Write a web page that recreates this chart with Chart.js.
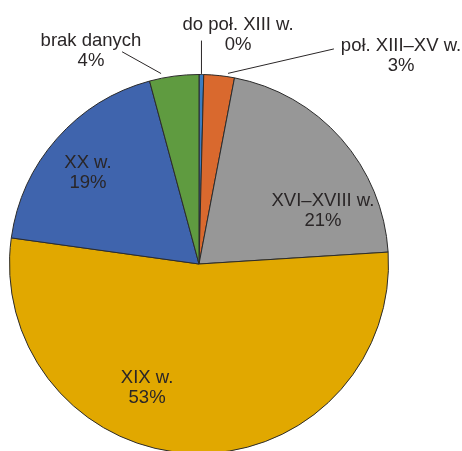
<!DOCTYPE html>
<html>
<head>
<meta charset="utf-8">
<script src="https://cdn.jsdelivr.net/npm/chart.js@4"></script>
<style>
  html, body { margin: 0; padding: 0; background: #fff; overflow: hidden; }
  #wrap { position: relative; width: 462px; height: 460px; }
</style>
</head>
<body>
<div id="wrap"><canvas id="pie"></canvas></div>
<script>
// dane (udział w %)
const categories = ["do poł. XIII w.", "poł. XIII–XV w.", "XVI–XVIII w.", "XIX w.", "XX w.", "brak danych"];
const shares = [0.4, 2.6, 21.0, 53.2, 18.6, 4.2];
const colors = ["#3b7cc2", "#d9692e", "#979797", "#e1a800", "#3f64ad", "#5f9b40"];

// pozycje etykiet względem środka koła, w jednostkach promienia
// text: [x, y]; line: [x1, y1, x2, y2] (null = bez linii odniesienia)
const labelPos = [
  { text: [0.206, -1.210], line: [0.013, -1.179, 0.013, -1.003] },
  { text: [1.066, -1.100], line: [0.712, -1.135, 0.153, -1.006] },
  { text: [0.654, -0.282], line: null },
  { text: [-0.274, 0.652], line: null },
  { text: [-0.586, -0.482], line: null },
  { text: [-0.570, -1.124], line: [-0.406, -1.120, -0.200, -1.005] }
];

const labelPlugin = {
  id: 'pieLabels',
  afterDatasetsDraw(chart) {
    const ctx = chart.ctx;
    const arc = chart.getDatasetMeta(0).data[0];
    const cx = arc.x, cy = arc.y, R = arc.outerRadius;
    const total = shares.reduce((a, b) => a + b, 0);
    ctx.save();
    ctx.font = '18.5px "Liberation Sans", Arial, sans-serif';
    ctx.fillStyle = '#2a2627';
    ctx.strokeStyle = '#2a2627';
    ctx.lineWidth = 1;
    ctx.textAlign = 'center';
    ctx.textBaseline = 'middle';
    labelPos.forEach((p, i) => {
      if (p.line) {
        ctx.beginPath();
        ctx.moveTo(cx + p.line[0] * R, cy + p.line[1] * R);
        ctx.lineTo(cx + p.line[2] * R, cy + p.line[3] * R);
        ctx.stroke();
      }
      const tx = cx + p.text[0] * R, ty = cy + p.text[1] * R;
      const pct = Math.round(shares[i] / total * 100) + '%';
      ctx.fillText(categories[i], tx, ty - 10);
      ctx.fillText(pct, tx, ty + 10);
    });
    ctx.restore();
  }
};

new Chart(document.getElementById('pie'), {
  type: 'pie',
  data: {
    labels: categories,
    datasets: [{
      data: shares,
      backgroundColor: colors,
      borderColor: '#2b2b2b',
      borderWidth: 1
    }]
  },
  options: {
    responsive: true,
    maintainAspectRatio: false,
    animation: false,
    events: [],
    layout: { padding: { left: 9, right: 73, top: 74, bottom: 6 } },
    plugins: {
      legend: { display: false },
      tooltip: { enabled: false }
    }
  },
  plugins: [labelPlugin]
});
</script>
</body>
</html>
